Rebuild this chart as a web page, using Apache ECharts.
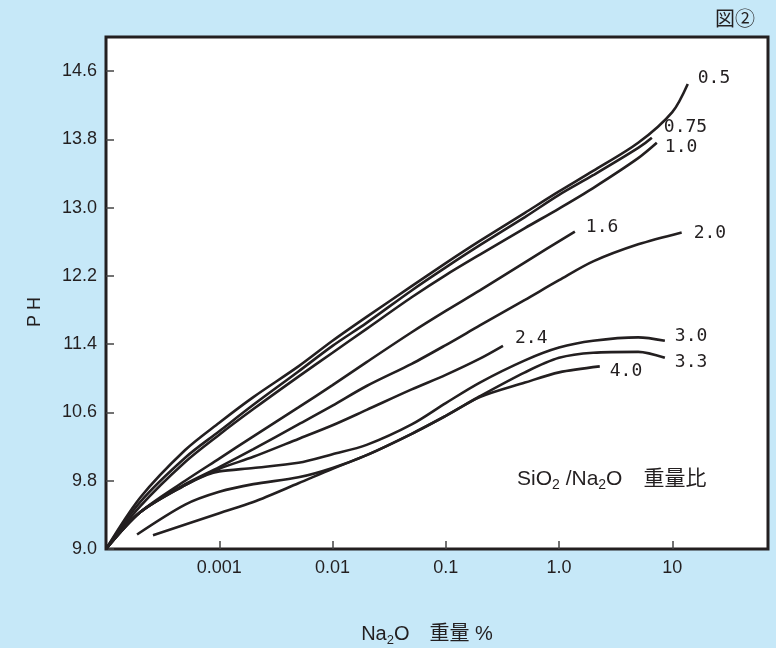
<!DOCTYPE html>
<html>
<head>
<meta charset="utf-8">
<script src="https://cdn.jsdelivr.net/npm/echarts@6/dist/echarts.min.js"></script>
<style>
html,body{margin:0;padding:0;background:#c6e8f8;}
#chart{width:776px;height:648px;}
</style>
</head>
<body>
<div id="chart"></div>
<script>
// SiO2/Na2O weight ratio of each curve
const ratios = ['0.5', '0.75', '1.0', '1.6', '2.0', '2.4', '3.0', '3.3', '4.0'];

// [Na2O weight %, pH]
const s05 = [[0.0001,9.0],[0.0002,9.60],[0.0005,10.16],[0.001,10.48],[0.002,10.78],[0.005,11.14],[0.01,11.44],[0.02,11.72],[0.05,12.08],[0.1,12.35],[0.2,12.61],[0.5,12.94],[1,13.19],[2,13.43],[5,13.76],[10,14.12],[13.7,14.45]];
const s075 = [[0.0001,9.0],[0.0002,9.55],[0.0005,10.07],[0.001,10.38],[0.002,10.69],[0.005,11.08],[0.01,11.38],[0.02,11.65],[0.05,12.03],[0.1,12.30],[0.2,12.56],[0.5,12.89],[1,13.15],[2,13.38],[5,13.70],[6.6,13.82]];
const s10 = [[0.0001,9.0],[0.0002,9.50],[0.0005,10.02],[0.001,10.34],[0.002,10.64],[0.005,11.02],[0.01,11.30],[0.02,11.58],[0.05,11.95],[0.1,12.21],[0.2,12.45],[0.5,12.76],[1,12.99],[2,13.23],[5,13.58],[7.3,13.76]];
const s16 = [[0.0001,9.0],[0.0002,9.43],[0.0005,9.80],[0.001,10.06],[0.002,10.32],[0.005,10.66],[0.01,10.92],[0.02,11.19],[0.05,11.54],[0.1,11.79],[0.2,12.03],[0.5,12.36],[1.38,12.72]];
const s20 = [[0.0001,9.0],[0.0002,9.43],[0.0005,9.76],[0.001,9.96],[0.002,10.17],[0.005,10.46],[0.01,10.68],[0.02,10.91],[0.05,11.17],[0.1,11.39],[0.2,11.62],[0.5,11.92],[1,12.15],[2,12.37],[5,12.57],[12.1,12.71]];
const s24 = [[0.0001,9.0],[0.0002,9.43],[0.0005,9.75],[0.001,9.94],[0.002,10.08],[0.005,10.29],[0.01,10.45],[0.02,10.63],[0.05,10.87],[0.1,11.04],[0.2,11.23],[0.32,11.38]];
const s30 = [[0.0001,9.0],[0.0002,9.43],[0.0005,9.75],[0.00078,9.87],[0.001,9.91],[0.002,9.95],[0.005,10.01],[0.01,10.11],[0.02,10.22],[0.05,10.46],[0.1,10.71],[0.2,10.95],[0.5,11.21],[1,11.36],[2,11.44],[5,11.48],[8.6,11.44]];
const s33 = [[0.000188,9.17],[0.0005,9.52],[0.001,9.67],[0.002,9.76],[0.005,9.84],[0.01,9.95],[0.02,10.10],[0.05,10.35],[0.1,10.56],[0.2,10.79],[0.5,11.07],[1,11.24],[2,11.30],[5,11.31],[8.6,11.24]];
const s40 = [[0.00026,9.16],[0.001,9.42],[0.002,9.55],[0.005,9.77],[0.01,9.94],[0.02,10.10],[0.05,10.35],[0.1,10.56],[0.2,10.78],[0.5,10.95],[1,11.07],[2.29,11.14]];

const yTicks = [9.0, 9.8, 10.6, 11.4, 12.2, 13.0, 13.8, 14.6];
const xTicks = [0.001, 0.01, 0.1, 1, 10];
const xTickLabels = ['0.001', '0.01', '0.1', '1.0', '10'];

const seriesData = [s05, s075, s10, s16, s20, s24, s30, s33, s40];
const labelOffsets = [[2,-6],[4,-10],[0,5],[3,-4],[4,1],[4,-8],[2,-4],[2,4],[2,5]];

const INK = '#231f20';
const chart = echarts.init(document.getElementById('chart'), null, {renderer: 'canvas'});

const series = ratios.map((name, i) => ({
  name: name,
  type: 'line',
  data: seriesData[i],
  smooth: 0.3,
  symbol: 'none',
  lineStyle: {color: INK, width: 2.6},
  emphasis: {disabled: true},
  endLabel: {
    show: true,
    formatter: name,
    offset: labelOffsets[i],
    color: INK,
    fontFamily: '"DejaVu Sans Mono", monospace',
    fontSize: 18
  },
  z: 3
}));

chart.setOption({
  animation: false,
  backgroundColor: '#c6e8f8',
  grid: {
    left: 106, top: 37, right: 8, bottom: 99,
    show: true, backgroundColor: '#ffffff',
    borderColor: INK, borderWidth: 3
  },
  xAxis: {
    type: 'log',
    logBase: 10,
    min: 0.0001,
    max: 70,
    axisLine: {show: false},
    splitLine: {show: false},
    axisTick: {
      show: true, inside: true, length: 8,
      customValues: xTicks,
      lineStyle: {color: '#444', width: 1.5}
    },
    axisLabel: {
      customValues: xTicks,
      margin: 10,
      color: INK,
      fontFamily: '"Liberation Sans", Arial, sans-serif',
      fontSize: 18,
      formatter: function (v) {
        for (let k = 0; k < xTicks.length; k++) {
          if (Math.abs(Math.log10(v) - Math.log10(xTicks[k])) < 1e-6) return xTickLabels[k];
        }
        return '';
      }
    }
  },
  yAxis: {
    type: 'value',
    min: 9.0,
    max: 15.0,
    axisLine: {show: false},
    splitLine: {show: false},
    axisTick: {
      show: true, inside: true, length: 8,
      customValues: yTicks,
      lineStyle: {color: '#444', width: 1.5}
    },
    axisLabel: {
      customValues: yTicks,
      margin: 9,
      color: INK,
      fontFamily: '"Liberation Sans", Arial, sans-serif',
      fontSize: 18,
      formatter: function (v) { return Number(v).toFixed(1); }
    }
  },
  graphic: [
    {
      type: 'text', x: 755, y: 18, z: 10,
      style: {
        text: '図②', fill: INK, align: 'right', verticalAlign: 'middle',
        font: '20px "Noto Sans CJK JP", sans-serif'
      }
    },
    {
      type: 'text', x: 35, y: 312, rotation: Math.PI / 2, z: 10,
      style: {
        text: 'P H', fill: INK, align: 'center', verticalAlign: 'middle',
        font: '18px "Liberation Sans", Arial, sans-serif'
      }
    },
    {
      type: 'text', x: 427, y: 634, z: 10,
      style: {
        text: 'Na{sub|2}O　重量 %', fill: INK, align: 'center', verticalAlign: 'middle',
        font: '20px "Liberation Sans", "Noto Sans CJK JP", sans-serif',
        rich: {
          sub: {fontSize: 13, fontFamily: '"Liberation Sans", sans-serif', padding: [12, 0, 0, 0], fill: INK}
        }
      }
    },
    {
      type: 'text', x: 517, y: 479, z: 10,
      style: {
        text: 'SiO{sub|2} /Na{sub|2}O　重量比', fill: INK, align: 'left', verticalAlign: 'middle',
        font: '21px "Liberation Sans", "Noto Sans CJK JP", sans-serif',
        rich: {
          sub: {fontSize: 14, fontFamily: '"Liberation Sans", sans-serif', padding: [13, 0, 0, 0], fill: INK}
        }
      }
    }
  ],
  series: series
});
</script>
</body>
</html>
